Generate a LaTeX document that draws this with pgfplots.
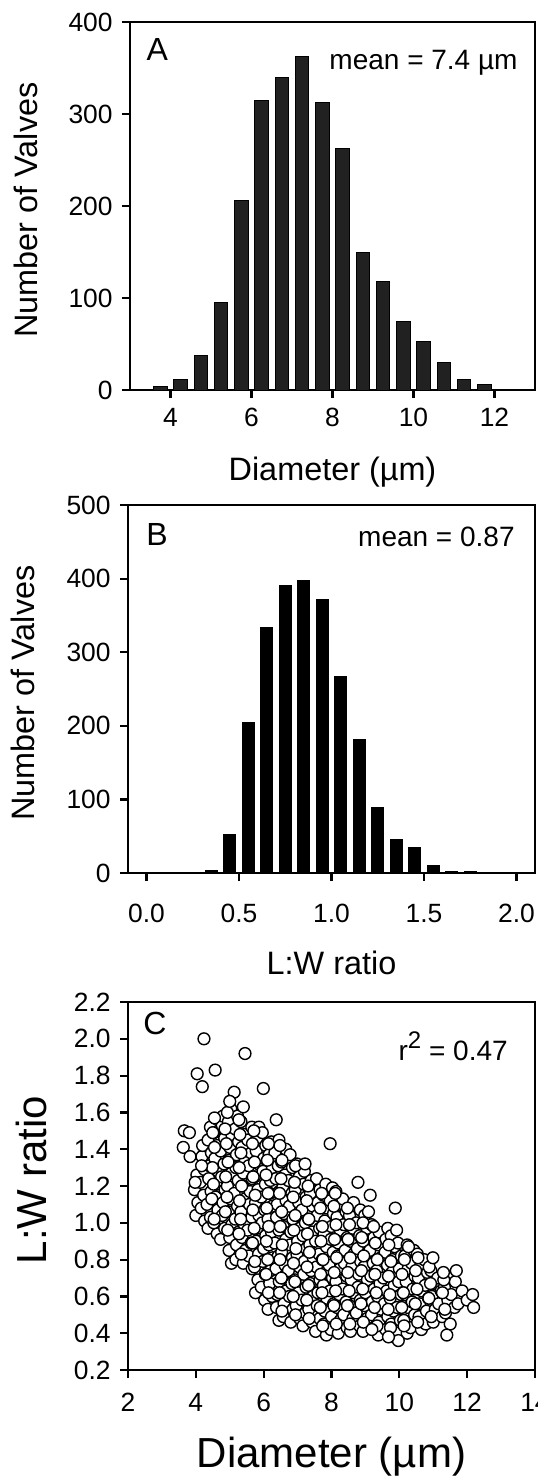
\documentclass[border=0pt]{standalone}
\usepackage{fontspec}
\setmainfont{Liberation Sans}
\usepackage{pgfplots}
\pgfplotsset{compat=1.18}

\pgfplotsset{
  panel/.style={
    scale only axis, height=184pt,
    axis line style={line width=1.1pt},
    every tick/.style={line width=1.1pt, black},
    major tick length=4pt,
    tick align=outside,
    xtick pos=left, ytick pos=left,
    ticklabel style={font=\fontsize{13.2}{15}\selectfont},
    yticklabel style={inner sep=0pt, xshift=-4.5pt},
    label style={font=\fontsize{16.2}{18}\selectfont},
    clip=false,
  },
}
\tikzset{
  mean/.style={font=\fontsize{14}{16}\selectfont, inner sep=0pt, anchor=base east},
  letter/.style={font=\fontsize{16}{18}\selectfont, inner sep=0pt, anchor=north west},
}

\begin{document}
\begin{tikzpicture}
\useasboundingbox (0,0) rectangle (268.5pt,-742pt);

% A: diameter histogram
\begin{axis}[panel, at={(65pt,-11pt)}, anchor=north west, width=202.5pt,
  xmin=3, xmax=13, ymin=0, ymax=400,
  xtick={4,6,8,10,12}, xticklabels={4,6,8,10,12},
  ytick={0,100,200,300,400}, yticklabels={0,100,200,300,400},
  xticklabel style={yshift=-1.5pt},
  xlabel={Diameter (µm)}, ylabel={Number of Valves},
  xlabel style={at={(axis description cs:0.5,-0.246)}, anchor=base, inner sep=0pt},
  ylabel style={at={(axis description cs:-0.258,0.489)}, anchor=center, inner sep=0pt},
]
\addplot[ybar, bar width=0.33, fill=black!87, draw=black, line width=0.5pt] coordinates {
  (3.75,4) (4.25,11) (4.75,38) (5.25,95) (5.75,206) (6.25,315) (6.75,340)
  (7.25,363) (7.75,313) (8.25,262) (8.75,150) (9.25,118) (9.75,74)
  (10.25,53) (10.75,30) (11.25,11) (11.75,6) (12.25,1)};
\node[letter] at (rel axis cs:0.040,0.957) {A};
\node[mean] at (rel axis cs:0.958,0.870) {mean = 7.4 µm};
\end{axis}

% B: L:W ratio histogram
\begin{axis}[panel, at={(64pt,-252.5pt)}, anchor=north west, width=203.5pt,
  xmin=-0.1, xmax=2.1, ymin=0, ymax=500,
  xtick={0,0.5,1,1.5,2}, xticklabels={0.0,0.5,1.0,1.5,2.0},
  ytick={0,100,200,300,400,500}, yticklabels={0,100,200,300,400,500},
  xticklabel style={yshift=-8pt},
  xlabel={L:W ratio}, ylabel={Number of Valves},
  xlabel style={at={(axis description cs:0.5,-0.277)}, anchor=base, inner sep=0pt},
  ylabel style={at={(axis description cs:-0.258,0.489)}, anchor=center, inner sep=0pt},
]
\addplot[ybar, bar width=0.065, fill=black, draw=black, line width=0.5pt] coordinates {
  (0.35,4) (0.45,52) (0.55,204) (0.65,333) (0.75,390) (0.85,398) (0.95,371)
  (1.05,267) (1.15,182) (1.25,89) (1.35,45) (1.45,35) (1.55,10) (1.65,2) (1.75,2)};
\node[letter] at (rel axis cs:0.044,0.951) {B};
\node[mean] at (rel axis cs:0.951,0.886) {mean = 0.87};
\end{axis}

% C: L:W ratio against diameter
\begin{axis}[panel, at={(64pt,-501pt)}, anchor=north west, width=203.5pt,
  xmin=2, xmax=14, ymin=0.2, ymax=2.2,
  xtick={2,4,6,8,10,12,14}, xticklabels={2,4,6,8,10,12,14},
  ytick={0.2,0.4,0.6,0.8,1.0,1.2,1.4,1.6,1.8,2.0,2.2},
  yticklabels={0.2,0.4,0.6,0.8,1.0,1.2,1.4,1.6,1.8,2.0,2.2},
  xticklabel style={yshift=-4pt},
  xlabel={Diameter (µm)}, ylabel={L:W ratio},
  label style={font=\fontsize{21}{24}\selectfont},
  xlabel style={at={(axis description cs:0.5,-0.264)}, anchor=base, inner sep=0pt},
  ylabel style={at={(axis description cs:-0.236,0.516)}, anchor=center, inner sep=0pt},
]
\addplot[only marks, mark=*, mark size=2.95pt,
  mark options={fill=white, draw=black, line width=0.7pt}] coordinates {
  (4.00,1.04)(4.06,1.11)(3.96,1.18)(4.03,1.26)
  (4.26,1.01)(4.16,1.08)(4.23,1.15)(4.13,1.22)(4.25,1.29)(4.18,1.36)(4.20,1.42)
  (4.36,0.97)(4.43,1.03)(4.33,1.10)(4.45,1.17)(4.38,1.24)(4.40,1.31)(4.46,1.38)(4.36,1.45)(4.43,1.52)
  (4.63,0.94)(4.53,1.00)(4.65,1.07)(4.58,1.14)(4.60,1.21)(4.66,1.28)(4.56,1.35)(4.63,1.42)(4.53,1.49)(4.65,1.56)
  (4.73,0.91)(4.85,0.97)(4.78,1.04)(4.80,1.11)(4.86,1.18)(4.76,1.25)(4.83,1.32)(4.73,1.39)(4.85,1.46)(4.78,1.53)(4.80,1.58)
  (5.05,0.78)(4.98,0.85)(5.00,0.92)(5.06,0.99)(4.96,1.06)(5.03,1.13)(4.93,1.20)(5.05,1.27)(4.98,1.34)(5.00,1.41)(5.06,1.48)(4.96,1.55)(5.03,1.62)
  (5.18,0.80)(5.20,0.88)(5.26,0.95)(5.16,1.02)(5.23,1.09)(5.13,1.16)(5.25,1.23)(5.18,1.30)(5.20,1.37)(5.26,1.44)(5.16,1.51)(5.23,1.58)
  (5.40,0.78)(5.46,0.85)(5.36,0.92)(5.43,0.99)(5.33,1.06)(5.45,1.13)(5.38,1.20)(5.40,1.27)(5.46,1.34)(5.36,1.41)(5.43,1.48)(5.33,1.55)
  (5.66,0.75)(5.56,0.82)(5.63,0.89)(5.53,0.96)(5.65,1.03)(5.58,1.10)(5.60,1.17)(5.66,1.24)(5.56,1.31)(5.63,1.38)(5.53,1.45)(5.65,1.52)
  (5.76,0.62)(5.83,0.69)(5.73,0.76)(5.85,0.83)(5.78,0.90)(5.80,0.97)(5.86,1.04)(5.76,1.11)(5.83,1.18)(5.73,1.25)(5.85,1.32)(5.78,1.39)(5.80,1.46)(5.86,1.52)
  (6.03,0.58)(5.93,0.65)(6.05,0.72)(5.98,0.79)(6.00,0.86)(6.06,0.93)(5.96,1.00)(6.03,1.07)(5.93,1.14)(6.05,1.21)(5.98,1.28)(6.00,1.35)(6.06,1.42)(5.96,1.49)
  (6.13,0.53)(6.25,0.60)(6.18,0.67)(6.20,0.74)(6.26,0.81)(6.16,0.88)(6.23,0.95)(6.13,1.02)(6.25,1.09)(6.18,1.16)(6.20,1.23)(6.26,1.30)(6.16,1.37)(6.23,1.44)
  (6.45,0.47)(6.38,0.54)(6.40,0.61)(6.46,0.68)(6.36,0.75)(6.43,0.82)(6.33,0.89)(6.45,0.96)(6.38,1.03)(6.40,1.10)(6.46,1.17)(6.36,1.24)(6.43,1.31)(6.33,1.38)(6.45,1.45)
  (6.58,0.49)(6.60,0.56)(6.66,0.63)(6.56,0.70)(6.63,0.77)(6.53,0.84)(6.65,0.91)(6.58,0.98)(6.60,1.05)(6.66,1.12)(6.56,1.19)(6.63,1.26)(6.53,1.33)(6.65,1.40)
  (6.80,0.46)(6.86,0.53)(6.76,0.60)(6.83,0.67)(6.73,0.74)(6.85,0.81)(6.78,0.88)(6.80,0.95)(6.86,1.02)(6.76,1.09)(6.83,1.16)(6.73,1.23)(6.85,1.30)(6.78,1.37)
  (7.06,0.48)(6.96,0.55)(7.03,0.62)(6.93,0.69)(7.05,0.76)(6.98,0.83)(7.00,0.90)(7.06,0.97)(6.96,1.04)(7.03,1.11)(6.93,1.18)(7.05,1.25)(6.98,1.32)
  (7.16,0.44)(7.23,0.51)(7.13,0.58)(7.25,0.65)(7.18,0.72)(7.20,0.79)(7.26,0.86)(7.16,0.93)(7.23,1.00)(7.13,1.07)(7.25,1.14)(7.18,1.21)(7.20,1.28)
  (7.43,0.46)(7.33,0.53)(7.45,0.60)(7.38,0.67)(7.40,0.74)(7.46,0.81)(7.36,0.88)(7.43,0.95)(7.33,1.02)(7.45,1.09)(7.38,1.16)(7.40,1.23)
  (7.53,0.41)(7.65,0.48)(7.58,0.55)(7.60,0.62)(7.66,0.69)(7.56,0.76)(7.63,0.83)(7.53,0.90)(7.65,0.97)(7.58,1.04)(7.60,1.11)(7.66,1.18)(7.56,1.24)
  (7.85,0.39)(7.78,0.45)(7.80,0.52)(7.86,0.59)(7.76,0.66)(7.83,0.73)(7.73,0.80)(7.85,0.87)(7.78,0.94)(7.80,1.01)(7.86,1.08)(7.76,1.15)(7.83,1.21)
  (7.98,0.42)(8.00,0.49)(8.06,0.56)(7.96,0.63)(8.03,0.70)(7.93,0.77)(8.05,0.84)(7.98,0.91)(8.00,0.98)(8.06,1.05)(7.96,1.12)(8.03,1.19)
  (8.20,0.40)(8.26,0.47)(8.16,0.54)(8.23,0.61)(8.13,0.68)(8.25,0.75)(8.18,0.82)(8.20,0.89)(8.26,0.96)(8.16,1.03)(8.23,1.10)(8.13,1.17)
  (8.46,0.43)(8.36,0.50)(8.43,0.57)(8.33,0.64)(8.45,0.71)(8.38,0.78)(8.40,0.85)(8.46,0.92)(8.36,0.99)(8.43,1.06)(8.33,1.13)
  (8.56,0.41)(8.63,0.48)(8.53,0.55)(8.65,0.62)(8.58,0.69)(8.60,0.76)(8.66,0.83)(8.56,0.90)(8.63,0.97)(8.53,1.04)(8.65,1.11)
  (8.83,0.44)(8.73,0.51)(8.85,0.58)(8.78,0.65)(8.80,0.72)(8.86,0.79)(8.76,0.86)(8.83,0.93)(8.73,1.00)(8.85,1.07)
  (8.93,0.41)(9.05,0.48)(8.98,0.55)(9.00,0.62)(9.06,0.69)(8.96,0.76)(9.03,0.83)(8.93,0.90)(9.05,0.97)(8.98,1.04)
  (9.25,0.43)(9.18,0.50)(9.20,0.57)(9.26,0.64)(9.16,0.71)(9.23,0.78)(9.13,0.85)(9.25,0.92)(9.18,0.99)
  (9.38,0.39)(9.40,0.46)(9.46,0.53)(9.36,0.60)(9.43,0.67)(9.33,0.74)(9.45,0.81)(9.38,0.88)(9.40,0.95)
  (9.60,0.42)(9.66,0.49)(9.56,0.56)(9.63,0.63)(9.53,0.70)(9.65,0.77)(9.58,0.84)(9.60,0.91)(9.66,0.97)
  (9.86,0.38)(9.76,0.45)(9.83,0.52)(9.73,0.59)(9.85,0.66)(9.78,0.73)(9.80,0.80)(9.86,0.87)(9.76,0.93)
  (9.96,0.40)(10.03,0.47)(9.93,0.54)(10.05,0.61)(9.98,0.68)(10.00,0.75)(10.06,0.82)(9.96,0.89)
  (10.23,0.40)(10.13,0.47)(10.25,0.54)(10.18,0.61)(10.20,0.68)(10.26,0.75)(10.16,0.82)(10.23,0.88)
  (10.33,0.43)(10.45,0.50)(10.38,0.57)(10.40,0.64)(10.46,0.71)(10.36,0.78)(10.43,0.85)
  (10.65,0.42)(10.58,0.49)(10.60,0.56)(10.66,0.63)(10.56,0.70)(10.63,0.77)(10.53,0.83)
  (10.78,0.45)(10.80,0.52)(10.86,0.59)(10.76,0.66)(10.83,0.73)(10.73,0.80)
  (11.00,0.46)(11.06,0.53)(10.96,0.60)(11.03,0.67)(10.93,0.74)
  (11.26,0.49)(11.16,0.56)(11.23,0.63)(11.13,0.70)
  (11.36,0.51)(11.43,0.58)(11.33,0.65)(11.45,0.71)
  (11.63,0.54)(11.53,0.61)(11.65,0.68)
  (11.73,0.56)(11.85,0.63)
  (12.00,0.58)
  (4.54,1.02)(4.47,1.13)(4.52,1.21)(4.49,1.30)(4.55,1.41)(4.50,1.49)
  (4.94,0.96)(4.87,1.06)(4.92,1.14)(4.88,1.25)(4.95,1.33)(4.90,1.43)(4.86,1.51)(4.93,1.60)
  (5.34,0.83)(5.27,0.94)(5.32,1.02)(5.29,1.12)(5.35,1.20)(5.28,1.30)(5.33,1.38)(5.30,1.48)(5.27,1.56)
  (5.74,0.79)(5.67,0.89)(5.72,0.97)(5.68,1.07)(5.75,1.15)(5.69,1.25)(5.73,1.33)(5.67,1.43)(5.71,1.50)
  (6.14,0.62)(6.07,0.72)(6.12,0.80)(6.08,0.90)(6.15,0.98)(6.09,1.08)(6.13,1.16)(6.07,1.26)(6.11,1.34)(6.14,1.43)
  (6.54,0.52)(6.47,0.62)(6.52,0.70)(6.48,0.80)(6.55,0.88)(6.49,0.98)(6.53,1.06)(6.47,1.16)(6.51,1.24)(6.54,1.34)(6.48,1.42)
  (6.94,0.50)(6.87,0.60)(6.92,0.68)(6.88,0.78)(6.95,0.86)(6.89,0.96)(6.93,1.04)(6.87,1.14)(6.91,1.22)(6.94,1.31)
  (7.34,0.48)(7.27,0.58)(7.32,0.66)(7.28,0.76)(7.35,0.84)(7.29,0.94)(7.33,1.02)(7.27,1.12)(7.31,1.20)
  (7.74,0.44)(7.67,0.54)(7.72,0.62)(7.68,0.72)(7.75,0.80)(7.69,0.90)(7.73,0.98)(7.67,1.08)(7.71,1.16)
  (8.14,0.45)(8.07,0.55)(8.12,0.63)(8.08,0.73)(8.15,0.81)(8.09,0.91)(8.13,0.99)(8.07,1.09)(8.11,1.16)
  (8.54,0.45)(8.47,0.55)(8.52,0.63)(8.48,0.73)(8.55,0.81)(8.49,0.91)(8.53,0.99)(8.47,1.08)
  (8.94,0.46)(8.87,0.56)(8.92,0.64)(8.88,0.74)(8.95,0.82)(8.89,0.92)(8.93,1.00)
  (9.34,0.44)(9.27,0.54)(9.32,0.62)(9.28,0.72)(9.35,0.80)(9.29,0.89)
  (9.74,0.43)(9.67,0.53)(9.72,0.61)(9.68,0.71)(9.75,0.79)(9.69,0.88)
  (10.14,0.44)(10.07,0.54)(10.12,0.62)(10.08,0.72)(10.15,0.80)
  (10.54,0.46)(10.47,0.56)(10.52,0.64)(10.48,0.74)(10.55,0.81)
  (10.94,0.49)(10.87,0.59)(10.92,0.67)(10.88,0.76)
  (11.34,0.53)(11.27,0.62)(11.31,0.69)
  (4.24,2.00)(5.45,1.92)(4.04,1.81)(4.57,1.83)(4.19,1.74)(5.99,1.73)(5.13,1.71)
  (5.40,1.63)(6.37,1.56)(3.66,1.50)(3.81,1.49)(3.63,1.41)(3.83,1.36)(7.96,1.43)
  (3.98,1.22)(7.22,1.32)(8.78,1.22)(9.14,1.15)(9.88,1.08)(9.09,1.06)(9.24,0.98)
  (9.92,0.96)(10.27,0.87)(10.99,0.81)(11.68,0.74)(11.30,0.73)(12.16,0.61)(12.19,0.54)
  (11.50,0.45)(11.40,0.39)(9.97,0.36)(4.17,1.31)(4.55,1.57)(5.00,1.66)(9.68,0.38)(9.19,0.42)
};
\node[letter] at (rel axis cs:0.037,0.973) {C};
\node[mean] at (rel axis cs:0.934,0.842) {r\raisebox{0.42em}{\fontsize{12}{14}\selectfont 2} = 0.47};
\end{axis}
\end{tikzpicture}
\end{document}
